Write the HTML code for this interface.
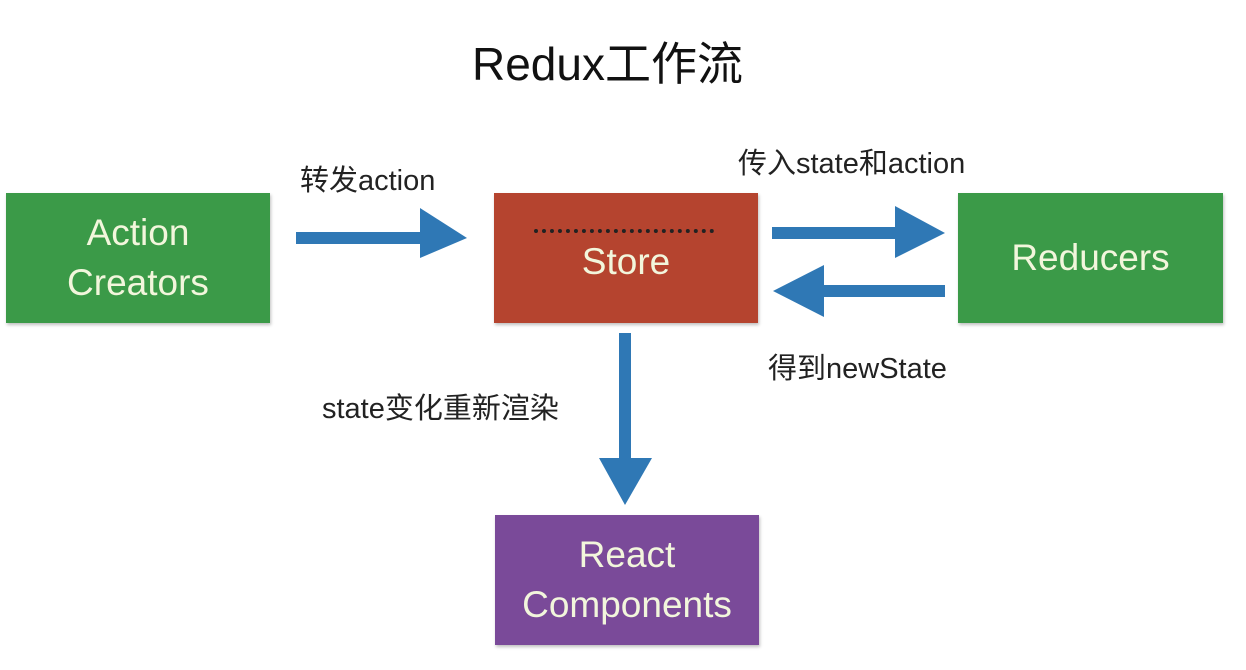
<!DOCTYPE html>
<html><head><meta charset="utf-8"><style>
body{margin:0;width:1246px;height:670px;background:#fff;position:relative;overflow:hidden;font-family:"Liberation Sans","Noto Sans CJK SC",sans-serif}
.box{position:absolute;display:flex;align-items:center;justify-content:center;text-align:center;color:#f2f6dc;font-size:37px;line-height:50px;box-shadow:1px 2px 3px rgba(0,0,0,.25)}
.t{position:absolute;font-size:29px;color:#222;white-space:nowrap}
</style></head><body>
<div class="t" style="left:472px;top:28px;font-size:46px;color:#111">Redux工作流</div>
<div class="box" style="left:6px;top:193px;width:264px;height:130px;background:#3b9a48">Action<br>Creators</div>
<div class="box" style="left:494px;top:193px;width:264px;height:130px;background:#b5442f"><span style="position:relative;top:4px">Store</span>
<div style="position:absolute;left:40px;top:36px;width:180px;border-top:4px dotted #222"></div></div>
<div class="box" style="left:958px;top:193px;width:265px;height:130px;background:#3b9a48">Reducers</div>
<div class="box" style="left:495px;top:515px;width:264px;height:130px;background:#7a4a99">React<br>Components</div>
<div class="t" style="left:300px;top:157px">转发action</div>
<div class="t" style="left:738px;top:140px">传入state和action</div>
<div class="t" style="left:768px;top:345px">得到newState</div>
<div class="t" style="left:322px;top:385px">state变化重新渲染</div>
<svg width="1246" height="670" style="position:absolute;left:0;top:0">
<g fill="#2f78b5">
<rect x="296" y="232" width="130" height="12"/><polygon points="420,208 467,238 420,258"/>
<rect x="772" y="227" width="128" height="12"/><polygon points="895,206 945,233 895,258"/>
<rect x="818" y="285" width="127" height="12"/><polygon points="824,265 773,291 824,317"/>
<rect x="619" y="333" width="12" height="130"/><polygon points="599,458 652,458 625,505"/>
</g></svg>
</body></html>
